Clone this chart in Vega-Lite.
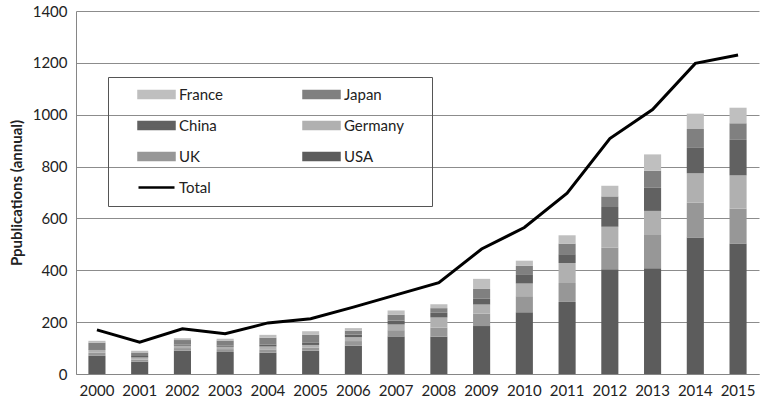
{
  "$schema": "https://vega.github.io/schema/vega-lite/v6.json",
  "width": 683,
  "height": 363,
  "autosize": {"type": "none"},
  "padding": {"left": 76, "top": 11, "right": 8, "bottom": 33},
  "background": "white",
  "config": {
    "view": {"stroke": null},
    "font": "Lato",
    "axis": {"labelFont": "Lato", "labelFontSize": 15, "labelColor": "#222", "titleFont": "Lato"},
    "legend": {"labelFont": "Lato", "labelFontSize": 15, "labelColor": "#222"}
  },
  "datasets": {
    "pubs": [
      {"year": "2000", "USA": 70, "UK": 12, "Germany": 11, "China": 3, "Japan": 25, "France": 7, "Total": 170},
      {"year": "2001", "USA": 47, "UK": 9, "Germany": 8, "China": 5, "Japan": 14, "France": 7, "Total": 123},
      {"year": "2002", "USA": 90, "UK": 10, "Germany": 9, "China": 4, "Japan": 18, "France": 7, "Total": 174},
      {"year": "2003", "USA": 85, "UK": 11, "Germany": 9, "China": 5, "Japan": 19, "France": 7, "Total": 155},
      {"year": "2004", "USA": 82, "UK": 13, "Germany": 11, "China": 8, "Japan": 26, "France": 11, "Total": 197},
      {"year": "2005", "USA": 90, "UK": 12, "Germany": 10, "China": 10, "Japan": 30, "France": 13, "Total": 213},
      {"year": "2006", "USA": 109, "UK": 18, "Germany": 15, "China": 10, "Japan": 15, "France": 10, "Total": 258},
      {"year": "2007", "USA": 145, "UK": 24, "Germany": 22, "China": 15, "Japan": 23, "France": 16, "Total": 305},
      {"year": "2008", "USA": 144, "UK": 35, "Germany": 39, "China": 18, "Japan": 18, "France": 15, "Total": 352},
      {"year": "2009", "USA": 185, "UK": 48, "Germany": 35, "China": 22, "Japan": 38, "France": 39, "Total": 482},
      {"year": "2010", "USA": 238, "UK": 62, "Germany": 49, "China": 33, "Japan": 35, "France": 20, "Total": 565},
      {"year": "2011", "USA": 278, "UK": 73, "Germany": 77, "China": 34, "Japan": 41, "France": 32, "Total": 697},
      {"year": "2012", "USA": 404, "UK": 84, "Germany": 80, "China": 76, "Japan": 41, "France": 41, "Total": 908},
      {"year": "2013", "USA": 408, "UK": 131, "Germany": 90, "China": 89, "Japan": 66, "France": 63, "Total": 1020},
      {"year": "2014", "USA": 526, "UK": 135, "Germany": 113, "China": 98, "Japan": 73, "France": 59, "Total": 1198},
      {"year": "2015", "USA": 502, "UK": 136, "Germany": 128, "China": 137, "Japan": 64, "France": 60, "Total": 1230}
    ]
  },
  "data": {"name": "pubs"},
  "transform": [
    {"fold": ["USA", "UK", "Germany", "China", "Japan", "France", "Total"], "as": ["country", "value"]}
  ],
  "encoding": {
    "x": {
      "field": "year", "type": "nominal",
      "scale": {"paddingInner": 0.6, "paddingOuter": 0.29},
      "axis": {"title": null, "labelAngle": 0, "ticks": false, "labelPadding": 9, "domainColor": "#868686", "domainWidth": 1}
    },
    "color": {
      "field": "country", "type": "nominal",
      "scale": {
        "domain": ["France", "China", "UK", "Total", "Japan", "Germany", "USA"],
        "range": ["#bfbfbf", "#616161", "#979797", "#000000", "#808080", "#b0b0b0", "#5c5c5c"]
      },
      "legend": {
        "title": " ",
        "titleOrient": "right",
        "titleFontSize": 11,
        "titlePadding": 18,
        "orient": "none",
        "legendX": 32,
        "legendY": 66,
        "columns": 2,
        "gridAlign": "all",
        "columnPadding": 44,
        "rowPadding": 14,
        "padding": 10,
        "strokeColor": "#555555",
        "symbolSize": 100,
        "symbolOffset": 31,
        "labelOffset": 15,
        "encode": {
          "symbols": {
            "update": {
              "shape": {"signal": "datum.value === 'Total' ? 'M-3.6,0H3.6' : 'M-3.6,-0.7H3.6V0.7H-3.6Z'"},
              "fill": {"signal": "datum.value === 'Total' ? 'transparent' : scale('color', datum.value)"},
              "stroke": {"signal": "datum.value === 'Total' ? '#000000' : 'transparent'"},
              "strokeWidth": {"value": 2.5},
              "opacity": {"value": 1},
              "fillOpacity": {"value": 1}
            }
          }
        }
      }
    }
  },
  "layer": [
    {
      "transform": [
        {"filter": "datum.country !== 'Total'"},
        {"calculate": "indexof(['USA','UK','Germany','China','Japan','France'], datum.country)", "as": "stackOrder"}
      ],
      "mark": {"type": "bar"},
      "encoding": {
        "y": {
          "field": "value", "type": "quantitative", "stack": "zero",
          "scale": {"domain": [0, 1400]},
          "axis": {
            "title": "Ppublications (annual)",
            "titleFontSize": 15, "titleFontWeight": "bold", "titleColor": "#222", "titlePadding": 8,
            "values": [0, 200, 400, 600, 800, 1000, 1200, 1400],
            "format": "d",
            "ticks": false, "labelPadding": 9,
            "gridColor": "#8c8c8c", "gridWidth": 1,
            "domainColor": "#868686"
          }
        },
        "order": {"field": "stackOrder", "type": "quantitative"}
      }
    },
    {
      "transform": [{"filter": "datum.country === 'Total'"}],
      "mark": {"type": "line", "strokeWidth": 3},
      "encoding": {
        "y": {"field": "value", "type": "quantitative"}
      }
    }
  ]
}
